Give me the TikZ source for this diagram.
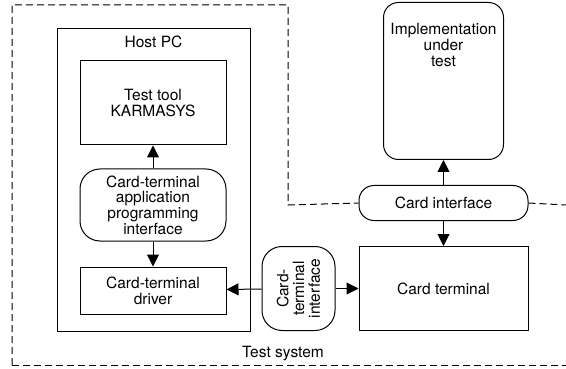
\documentclass[tikz,border=0pt]{standalone}
\usepackage{fontspec}
\setmainfont{TeX Gyre Heros}
\usetikzlibrary{arrows.meta,positioning}

\begin{document}
\begin{tikzpicture}[x=1pt,y=-1pt,font=\fontsize{15.5}{15.7}\selectfont,
  blk/.style={draw,line width=1pt,minimum width=146pt,align=center,inner sep=0pt},
  rblk/.style={blk,rounded corners=20pt},
  arr/.style={-{Triangle[length=12pt,width=12pt]},line width=1pt},
  frame/.style={line width=1pt,dash pattern=on 7pt off 4pt}]
\useasboundingbox (0,0) rectangle (566,369);
\node[blk,minimum width=193pt,minimum height=302pt,label={[anchor=north,yshift=-4pt]north:Host PC}] (host) at (153.5,180) {};
\node[blk,minimum height=84pt] (tool) at (153,103) {Test tool\\KARMASYS};
\node[rblk,minimum height=72pt,below=23pt of tool] (api) {Card-terminal\\application\\programming\\interface};
\node[blk,minimum height=47pt,below=25pt of api] (drv) {Card-terminal\\driver};
\node[rblk,minimum width=73pt,minimum height=84pt,label={[rotate=90,align=center]center:Card-\\terminal\\interface}] (cti) at (298.5,288.5) {};
\node[blk,minimum width=169pt,minimum height=84pt,right=23pt of cti] (ct) {Card terminal};
\node[rblk,rounded corners=15pt,minimum width=169pt,minimum height=35pt,above=25pt of ct] (ci) {Card interface};
\node[rblk,rounded corners=15pt,minimum width=120pt,minimum height=157pt,above=25pt of ci,label={[anchor=north,align=center,yshift=-18pt]north:Implementation\\under\\test}] (iut) {};
\node (sys) at (283,354) {Test system};
% test system border
\draw[frame] (12,365) -- (12,5) -- (288,5) -- (288,205) -- (ci.west);
\draw[frame] (ci.east) -- (566,205);
\draw[frame] (12,365) -- (566,365);
\draw[arr] (api) -- (tool);
\draw[arr] (api) -- (drv);
\draw[arr] (cti) -- (drv);
\draw[arr] (cti) -- (ct);
\draw[arr] (ci) -- (iut);
\draw[arr] (ci) -- (ct);
\end{tikzpicture}
\end{document}
